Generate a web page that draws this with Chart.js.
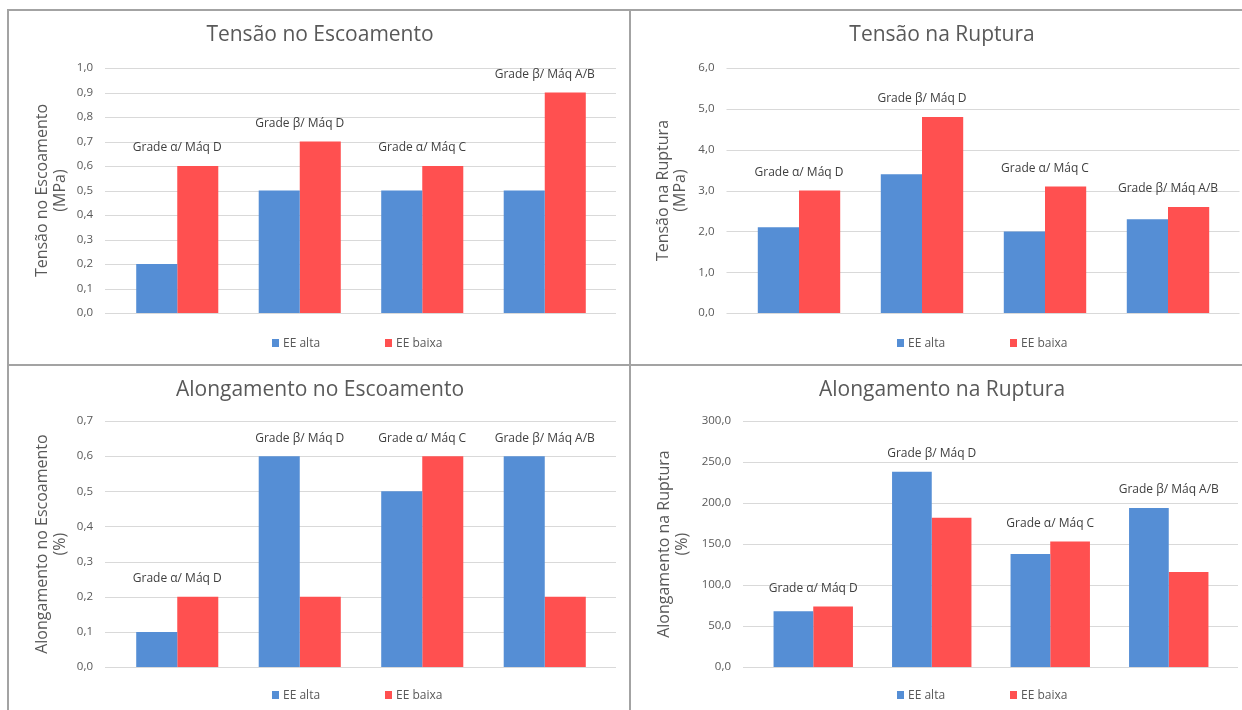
<!DOCTYPE html>
<html>
<head>
<meta charset="utf-8">
<script src="https://cdn.jsdelivr.net/npm/chart.js@4.4.1/dist/chart.umd.min.js"></script>
<style>
  body { margin: 0; width: 1242px; height: 710px; background: #fff; position: relative; overflow: hidden; font-family: "Open Sans", sans-serif; }
  canvas { position: absolute; }
  .rule { position: absolute; background: #a3a3a3; }
  .legend { position: absolute; display: flex; font-size: 12px; line-height: 14px; color: #595959; }
  .legend .item { display: flex; align-items: center; width: 113px; }
  .legend i { display: inline-block; width: 7px; height: 8px; margin-right: 4px; }
</style>
</head>
<body>
<div class="rule" style="left:7px;top:9px;width:2px;height:701px"></div>
<div class="rule" style="left:7px;top:9px;width:1235px;height:2px"></div>
<div class="rule" style="left:629px;top:9px;width:2px;height:701px"></div>
<div class="rule" style="left:7px;top:364px;width:1235px;height:2px"></div>

<canvas id="c1" width="630" height="332" style="left:0;top:11px"></canvas>
<canvas id="c2" width="610" height="332" style="left:632px;top:11px"></canvas>
<canvas id="c3" width="630" height="330" style="left:0;top:367px"></canvas>
<canvas id="c4" width="610" height="330" style="left:632px;top:367px"></canvas>

<script>
const categories = ["Grade α/ Máq D", "Grade β/ Máq D", "Grade α/ Máq C", "Grade β/ Máq A/B"];
const seriesNames = ["EE alta", "EE baixa"];

const tensaoEscAlta = [0.2, 0.5, 0.5, 0.5];
const tensaoEscBaixa = [0.6, 0.7, 0.6, 0.9];
const tensaoRupAlta = [2.1, 3.4, 2.0, 2.3];
const tensaoRupBaixa = [3.0, 4.8, 3.1, 2.6];
const alongEscAlta = [0.1, 0.6, 0.5, 0.6];
const alongEscBaixa = [0.2, 0.2, 0.6, 0.2];
const alongRupAlta = [68, 238, 138, 194];
const alongRupBaixa = [74, 182, 153, 116];

const blue = "#558ed5";
const red = "#ff5050";
const grey = "#595959";
const family = "'Open Sans', sans-serif";

// ticks use a decimal comma, one digit
const fmtTick = (v) => v.toFixed(1).replace(".", ",");

// horizontal grid drawn a little wider than the category area
const wideGrid = {
  id: "wideGrid",
  beforeDatasetsDraw(chart, args, opts) {
    const { ctx, chartArea } = chart;
    const y = chart.scales.y;
    ctx.save();
    ctx.strokeStyle = "#d9d9d9";
    ctx.lineWidth = 1;
    y.ticks.forEach((t) => {
      const py = Math.round(y.getPixelForValue(t.value)) + 0.5;
      ctx.beginPath();
      ctx.moveTo(chartArea.left - opts.left, py);
      ctx.lineTo(chartArea.right + opts.right, py);
      ctx.stroke();
    });
    ctx.restore();
  },
};

// category name written above each pair of bars
const groupLabels = {
  id: "groupLabels",
  afterDatasetsDraw(chart) {
    const { ctx } = chart;
    const metas = chart.data.datasets.map((d, i) => chart.getDatasetMeta(i));
    ctx.save();
    ctx.font = "12px " + family;
    ctx.fillStyle = "#404040";
    ctx.textAlign = "center";
    ctx.textBaseline = "middle";
    chart.data.labels.forEach((lab, j) => {
      const bars = metas.map((m) => m.data[j]);
      const x = bars.reduce((s, b) => s + b.x, 0) / bars.length;
      const top = Math.min(...bars.map((b) => b.y));
      ctx.fillText(lab, x, top - 18);
    });
    ctx.restore();
  },
};

const makeChart = (id, p) => {
  return new Chart(document.getElementById(id), {
    type: "bar",
    data: {
      labels: categories,
      datasets: [
        { label: seriesNames[0], data: p.alta, backgroundColor: blue },
        { label: seriesNames[1], data: p.baixa, backgroundColor: red },
      ],
    },
    options: {
      responsive: false,
      animation: false,
      layout: { padding: { left: p.padL, right: p.padR, top: 0, bottom: 0 } },
      datasets: { bar: { categoryPercentage: 0.67, barPercentage: 1 } },
      plugins: {
        legend: { display: false },
        tooltip: { enabled: false },
        title: {
          display: true,
          text: p.title,
          color: grey,
          font: { family, size: 21, weight: "normal" },
          padding: { top: p.titleTop, bottom: p.titleBottom },
        },
        wideGrid: { left: 11, right: 10 },
      },
      scales: {
        x: {
          grid: { display: false, drawTicks: false },
          border: { display: false },
          ticks: { display: false },
          afterFit: (s) => { s.height = 10; },
        },
        y: {
          min: 0,
          max: p.max,
          ticks: { stepSize: p.step, padding: 23, color: grey, font: { family, size: 11.5 }, callback: fmtTick },
          grid: { display: false, drawTicks: false },
          border: { display: false },
          title: {
            display: true,
            text: p.axisTitle,
            color: grey,
            font: { family, size: 16, lineHeight: 1.1 },
            padding: { top: 0, bottom: 0 },
          },
          afterFit: (s) => { s.width = p.yWidth; },
        },
      },
    },
    plugins: [wideGrid, groupLabels],
  });
};

// html legend built from the chart datasets
const addLegend = (chart, left, midY) => {
  const box = document.createElement("div");
  box.className = "legend";
  box.style.left = left + "px";
  box.style.top = midY - 7 + "px";
  chart.data.datasets.forEach((ds) => {
    box.insertAdjacentHTML("beforeend", `<div class="item"><i style="background:${ds.backgroundColor}"></i>${ds.label}</div>`);
  });
  document.body.append(box);
};

const c1 = makeChart("c1", {
  alta: tensaoEscAlta, baixa: tensaoEscBaixa, max: 1, step: 0.1,
  title: "Tensão no Escoamento", axisTitle: ["Tensão no Escoamento", "(MPa)"],
  padL: 34, padR: 24, yWidth: 82, titleTop: 11.4, titleBottom: 20.4,
});
const c2 = makeChart("c2", {
  alta: tensaoRupAlta, baixa: tensaoRupBaixa, max: 6, step: 1,
  title: "Tensão na Ruptura", axisTitle: ["Tensão na Ruptura", "(MPa)"],
  padL: 22.5, padR: 12.5, yWidth: 83, titleTop: 11.4, titleBottom: 20.4,
});
const c3 = makeChart("c3", {
  alta: alongEscAlta, baixa: alongEscBaixa, max: 0.7, step: 0.1,
  title: "Alongamento no Escoamento", axisTitle: ["Alongamento no Escoamento", "(%)"],
  padL: 34, padR: 24, yWidth: 82, titleTop: 10.4, titleBottom: 18.4,
});
const c4 = makeChart("c4", {
  alta: alongRupAlta, baixa: alongRupBaixa, max: 300, step: 50,
  title: "Alongamento na Ruptura", axisTitle: ["Alongamento na Ruptura", "(%)"],
  padL: 24, padR: 14, yWidth: 98, titleTop: 10.4, titleBottom: 18.4,
});

addLegend(c1, 272, 343);
addLegend(c2, 897, 343);
addLegend(c3, 272, 695);
addLegend(c4, 897, 695);
</script>
</body>
</html>
